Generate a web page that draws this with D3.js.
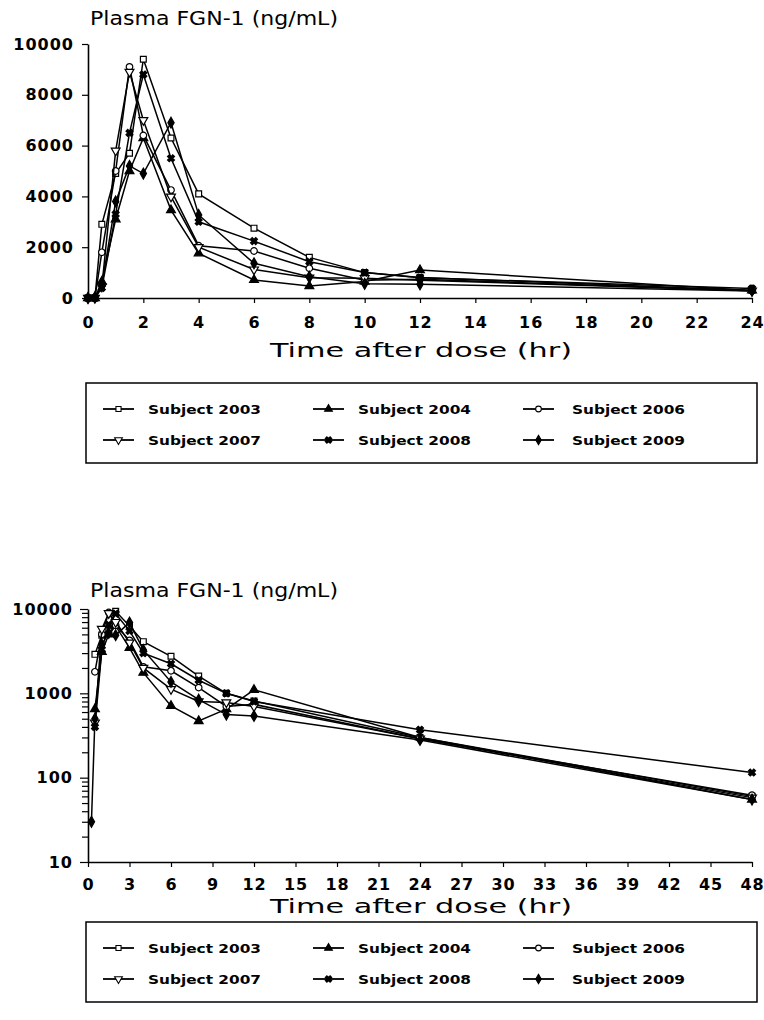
<!DOCTYPE html>
<html>
<head>
<meta charset="utf-8">
<script src="https://cdn.jsdelivr.net/npm/d3@7"></script>
<style>
  body { margin: 0; background: #fff; }
  svg text { fill: #000; }
</style>
</head>
<body>
<div id="chart"></div>
<script>
// sampling times (hr)
const times = [0, 0.25, 0.5, 1, 1.5, 2, 3, 4, 6, 8, 10, 12, 24, 48];

// plasma FGN-1 (ng/mL), one list per subject
const s2003 = [0, 0, 2900, 4900, 5700, 9400, 6300, 4100, 2750, 1600, 1000, 810, 300, 60];
const s2004 = [0, 0, 650, 3100, 5000, 6300, 3460, 1760, 710, 470, 650, 1100, 300, 55];
const s2006 = [0, 0, 1800, 5000, 9100, 6400, 4250, 2060, 1850, 1170, 700, 740, 290, 62];
const s2007 = [0, 0, 450, 5800, 8900, 7000, 3990, 2000, 1120, 800, 780, 700, 290, 58];
const s2008 = [0, 0, 400, 3300, 6500, 8800, 5500, 3000, 2240, 1430, 1000, 800, 370, 115];
const s2009 = [0, 30, 500, 3800, 5200, 4900, 6900, 3270, 1365, 840, 560, 540, 280, 55];

const subjects = ["Subject 2003", "Subject 2004", "Subject 2006", "Subject 2007", "Subject 2008", "Subject 2009"];
const seriesValues = [s2003, s2004, s2006, s2007, s2008, s2009];

const linTicksX = [0, 2, 4, 6, 8, 10, 12, 14, 16, 18, 20, 22, 24];
const linTicksY = [0, 2000, 4000, 6000, 8000, 10000];
const logTicksX = [0, 3, 6, 9, 12, 15, 18, 21, 24, 27, 30, 33, 36, 39, 42, 45, 48];
const logTicksY = [10, 100, 1000, 10000];

const titleText = "Plasma FGN-1 (ng/mL)";
const xTitleText = "Time after dose (hr)";

// marker style for each subject
const markerStyle = [
  { type: d3.symbolSquare, fill: "#fff", rot: 0 },
  { type: d3.symbolTriangle, fill: "#000", rot: 0 },
  { type: d3.symbolCircle, fill: "#fff", rot: 0 },
  { type: d3.symbolTriangle, fill: "#fff", rot: 180 },
  { type: d3.symbolCross, fill: "#000", rot: 45 },
  { type: d3.symbolDiamond, fill: "#000", rot: 0 }
];

const data = subjects.map((name, i) => ({
  name,
  style: markerStyle[i],
  points: times.map((t, j) => ({ t, v: seriesValues[i][j] }))
}));

const svg = d3.select("#chart")
  .append("svg")
  .attr("width", 764)
  .attr("height", 1020)
  .style("font-family", "'DejaVu Sans', sans-serif");

function drawMarkers(g, pts, x, y, style) {
  g.selectAll("path.mk")
    .data(pts)
    .join("path")
    .attr("class", "mk")
    .attr("d", d3.symbol().type(style.type).size(style.type === d3.symbolCross ? 30 : 34))
    .attr("transform", d => `translate(${x(d.t)},${y(d.v)}) rotate(${style.rot})`)
    .attr("fill", style.fill)
    .attr("stroke", "#000")
    .attr("stroke-width", 1.2);
}

function drawLegend(top) {
  const g = svg.append("g");
  g.append("rect")
    .attr("x", 86).attr("y", top)
    .attr("width", 671).attr("height", 80)
    .attr("fill", "none").attr("stroke", "#000").attr("stroke-width", 1.5);
  const colLine = [103, 313, 523];
  const colText = [148, 358, 572];
  const rowY = [top + 26, top + 57];
  data.forEach((s, i) => {
    const c = i % 3, r = Math.floor(i / 3);
    const item = g.append("g");
    item.append("line")
      .attr("x1", colLine[c]).attr("x2", colLine[c] + 31)
      .attr("y1", rowY[r]).attr("y2", rowY[r])
      .attr("stroke", "#000").attr("stroke-width", 1.8);
    item.append("path")
      .attr("d", d3.symbol().type(s.style.type).size(26))
      .attr("transform", `translate(${colLine[c] + 15.5},${rowY[r]}) rotate(${s.style.rot})`)
      .attr("fill", s.style.fill).attr("stroke", "#000").attr("stroke-width", 1.1);
    item.append("text")
      .attr("x", colText[c]).attr("y", rowY[r] + 5)
      .attr("font-size", 13).attr("font-weight", "bold")
      .attr("textLength", 113).attr("lengthAdjust", "spacingAndGlyphs")
      .text(s.name);
  });
}

function styleAxis(g) {
  g.select(".domain").attr("stroke-width", 1.6);
  g.selectAll(".tick line").attr("stroke-width", 1.2);
  g.selectAll(".tick text")
    .attr("font-size", 16).attr("font-weight", "bold")
    .style("letter-spacing", "1px")
    .attr("font-family", "'DejaVu Sans', sans-serif");
}

// ---------- top chart: linear scale ----------
const x1 = d3.scaleLinear().domain([0, 24]).range([88, 752]);
const y1 = d3.scaleLinear().domain([0, 10000]).range([298, 44]);

svg.append("text").attr("x", 90).attr("y", 25)
  .attr("font-size", 19).attr("textLength", 248).attr("lengthAdjust", "spacingAndGlyphs")
  .text(titleText);

const ax1 = svg.append("g").attr("transform", "translate(0,298)")
  .call(d3.axisBottom(x1).tickValues(linTicksX).tickSize(5).tickPadding(14).tickSizeOuter(0));
styleAxis(ax1);
const ay1 = svg.append("g").attr("transform", "translate(88,0)")
  .call(d3.axisLeft(y1).tickValues(linTicksY).tickFormat(d3.format("d")).tickSize(6).tickPadding(8).tickSizeOuter(0));
styleAxis(ay1);

svg.append("text").attr("x", 421).attr("y", 357).attr("text-anchor", "middle")
  .attr("font-size", 19).attr("textLength", 302).attr("lengthAdjust", "spacingAndGlyphs")
  .text(xTitleText);

const line1 = d3.line().x(d => x1(d.t)).y(d => y1(d.v));
data.forEach(s => {
  const pts = s.points.filter(d => d.t <= 24);
  const g = svg.append("g");
  g.append("path").datum(pts).attr("d", line1)
    .attr("fill", "none").attr("stroke", "#000").attr("stroke-width", 1.5);
  drawMarkers(g, pts, x1, y1, s.style);
});

drawLegend(383);

// ---------- bottom chart: log scale ----------
const x2 = d3.scaleLinear().domain([0, 48]).range([88, 752]);
const y2 = d3.scaleLog().domain([10, 10000]).range([862, 609]);

svg.append("text").attr("x", 90).attr("y", 597)
  .attr("font-size", 19).attr("textLength", 248).attr("lengthAdjust", "spacingAndGlyphs")
  .text(titleText);

const ax2 = svg.append("g").attr("transform", "translate(0,862)")
  .call(d3.axisBottom(x2).tickValues(logTicksX).tickSize(5).tickPadding(12).tickSizeOuter(0));
styleAxis(ax2);

const minorTicks = [];
[10, 100, 1000].forEach(dec => { for (let k = 2; k <= 9; k++) minorTicks.push(dec * k); });
svg.append("g").attr("transform", "translate(88,0)")
  .call(d3.axisLeft(y2).tickValues(minorTicks).tickSize(6).tickFormat(""))
  .call(g => g.select(".domain").remove())
  .selectAll(".tick line").attr("stroke-width", 1.2);
const ay2 = svg.append("g").attr("transform", "translate(88,0)")
  .call(d3.axisLeft(y2).tickValues(logTicksY).tickFormat(d3.format("d")).tickSize(8).tickPadding(7).tickSizeOuter(0));
styleAxis(ay2);

svg.append("text").attr("x", 421).attr("y", 913).attr("text-anchor", "middle")
  .attr("font-size", 19).attr("textLength", 302).attr("lengthAdjust", "spacingAndGlyphs")
  .text(xTitleText);

const line2 = d3.line().x(d => x2(d.t)).y(d => y2(d.v));
data.forEach(s => {
  const pts = s.points.filter(d => d.v > 0);
  const g = svg.append("g");
  g.append("path").datum(pts).attr("d", line2)
    .attr("fill", "none").attr("stroke", "#000").attr("stroke-width", 1.5);
  drawMarkers(g, pts, x2, y2, s.style);
});

drawLegend(922);
</script>
</body>
</html>
